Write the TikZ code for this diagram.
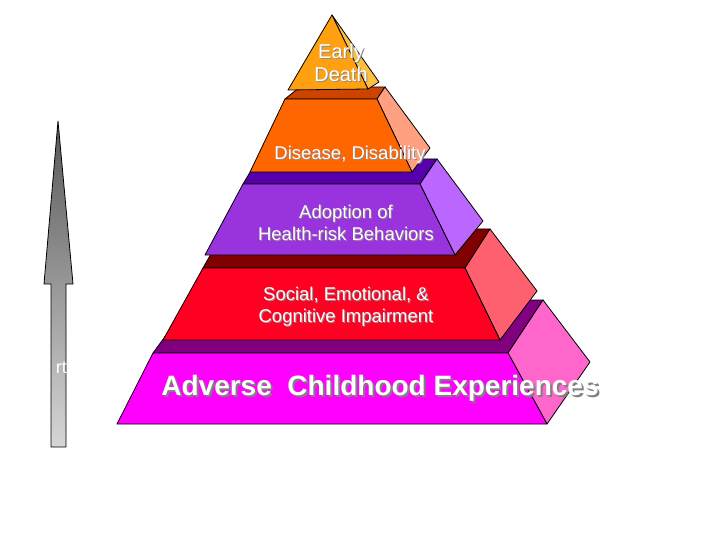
\documentclass[tikz,border=0pt]{standalone}
\usepackage{fontspec}
\setmainfont{Liberation Sans}
\begin{document}
\begin{tikzpicture}[x=1pt,y=-1pt,
  face/.style={draw=black, line width=0.8pt, line join=round},
  lbl/.style={text=white, align=center, inner sep=0pt, font=\fontsize{18.5}{22.5}\selectfont},
  lblsh/.style={lbl, text=black!45},
  big/.style={text=white, inner sep=0pt, font=\bfseries\fontsize{28}{32}\selectfont},
  bigsh/.style={big, text=black!50}]
\useasboundingbox[fill=white] (0,0) rectangle (720,540);

% ---- arrow ----
\path[face, top color={rgb,255:red,88;green,88;blue,88}, bottom color={rgb,255:red,214;green,214;blue,214}]
  (58,121) -- (73,284) -- (66,284) -- (66,447) -- (51,447) -- (51,284) -- (44,284) -- cycle;
\node[text=white, anchor=east, inner sep=0pt, font=\fontsize{18}{20}\selectfont] (rt) at (67,368) {rt};

% ---- magenta layer ----
\fill[face, fill={rgb,255:red,128;green,0;blue,128}] (153,353) -- (508,353) -- (543,300) -- (192,300) -- cycle;
\fill[face, fill={rgb,255:red,255;green,102;blue,204}] (508,353) -- (543,300) -- (590,362) -- (547,424) -- cycle;
\fill[face, fill={rgb,255:red,255;green,0;blue,255}] (117,424) -- (547,424) -- (508,353) -- (153,353) -- cycle;

% ---- red layer ----
\fill[face, fill={rgb,255:red,128;green,0;blue,0}] (203,268) -- (465,268) -- (490,229) -- (225,229) -- cycle;
\fill[face, fill={rgb,255:red,255;green,96;blue,112}] (465,268) -- (490,229) -- (537,291) -- (500,340) -- cycle;
\fill[face, fill={rgb,255:red,255;green,0;blue,34}] (163,340) -- (500,340) -- (465,268) -- (203,268) -- cycle;

% ---- purple layer ----
\fill[face, fill={rgb,255:red,85;green,0;blue,170}] (243,184) -- (420,184) -- (437,159) -- (258,159) -- cycle;
\fill[face, fill={rgb,255:red,187;green,102;blue,255}] (420,184) -- (437,159) -- (483,221) -- (455,255) -- cycle;
\fill[face, fill={rgb,255:red,153;green,51;blue,221}] (205,255) -- (455,255) -- (420,184) -- (243,184) -- cycle;

% ---- orange layer ----
\fill[face, fill={rgb,255:red,204;green,68;blue,0}] (285,99) -- (377,99) -- (385,87) -- (300,87) -- cycle;
\fill[face, fill={rgb,255:red,255;green,160;blue,128}] (377,99) -- (385,87) -- (430,148) -- (412,172) -- cycle;
\fill[face, fill={rgb,255:red,255;green,102;blue,0}] (250,172) -- (412,172) -- (377,99) -- (285,99) -- cycle;

% ---- top pyramid ----
\fill[face, fill={rgb,255:red,255;green,192;blue,64}] (332,15) -- (368,89) -- (379,82) -- cycle;
\fill[face, fill={rgb,255:red,255;green,160;blue,16}] (332,15) -- (288,90) -- (368,89) -- cycle;

% ---- labels ----
\node[lblsh, font=\fontsize{20}{23}\selectfont] (t0s) at (342,64) {Early\\Death};
\node[lbl, font=\fontsize{20}{23}\selectfont] (t0) at (341,63) {Early\\Death};
\node[lblsh] (t1s) at (351,156) {Disease, Disability};
\node[lbl] (t1) at (350,155) {Disease, Disability};
\node[lblsh] (t2s) at (347,224) {Adoption of\\Health-risk Behaviors};
\node[lbl] (t2) at (346,223) {Adoption of\\Health-risk Behaviors};
\node[lblsh] (t3s) at (347,307.5) {Social, Emotional, \&\\Cognitive Impairment};
\node[lbl] (t3) at (346,306.5) {Social, Emotional, \&\\Cognitive Impairment};
\node[bigsh] (t4s) at (382,390) {Adverse\ \ Childhood Experiences};
\node[big] (t4) at (380,388) {Adverse\ \ Childhood Experiences};
\end{tikzpicture}
\end{document}
